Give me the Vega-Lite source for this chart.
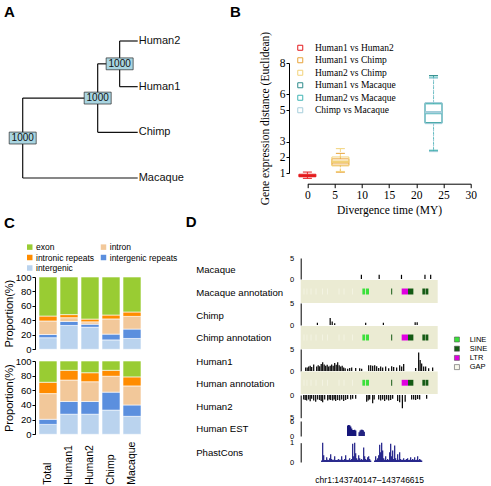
{
  "$schema": "https://vega.github.io/schema/vega-lite/v6.json",
  "padding": {"left": 3, "top": 4, "right": 2, "bottom": 2},
  "config": {
    "font": "Liberation Sans",
    "view": {"stroke": null},
    "axis": {"grid": false, "labelOverlap": false, "domainColor": "#000", "tickColor": "#000", "labelColor": "#000", "titleColor": "#000", "titleFontWeight": "normal"},
    "legend": {"labelColor": "#000"},
    "title": {"font": "Liberation Sans", "fontSize": 15, "fontWeight": "bold", "anchor": "start", "frame": "group", "color": "#000", "offset": 0}
  },
  "datasets": {
    "cTop": [
      {"sample": "Total", "region": "intergenic", "pct": 16}, {"sample": "Total", "region": "intergenic repeats", "pct": 4.5}, {"sample": "Total", "region": "intron", "pct": 18.7}, {"sample": "Total", "region": "intronic repeats", "pct": 6.8}, {"sample": "Total", "region": "exon", "pct": 54},
      {"sample": "Human1", "region": "intergenic", "pct": 33}, {"sample": "Human1", "region": "intergenic repeats", "pct": 5.5}, {"sample": "Human1", "region": "intron", "pct": 5.2}, {"sample": "Human1", "region": "intronic repeats", "pct": 4.3}, {"sample": "Human1", "region": "exon", "pct": 52},
      {"sample": "Human2", "region": "intergenic", "pct": 30.5}, {"sample": "Human2", "region": "intergenic repeats", "pct": 4.2}, {"sample": "Human2", "region": "intron", "pct": 3.3}, {"sample": "Human2", "region": "intronic repeats", "pct": 3.8}, {"sample": "Human2", "region": "exon", "pct": 58.2},
      {"sample": "Chimp", "region": "intergenic", "pct": 13}, {"sample": "Chimp", "region": "intergenic repeats", "pct": 8}, {"sample": "Chimp", "region": "intron", "pct": 21}, {"sample": "Chimp", "region": "intronic repeats", "pct": 5.4}, {"sample": "Chimp", "region": "exon", "pct": 52.6},
      {"sample": "Macaque", "region": "intergenic", "pct": 15}, {"sample": "Macaque", "region": "intergenic repeats", "pct": 13}, {"sample": "Macaque", "region": "intron", "pct": 17.5}, {"sample": "Macaque", "region": "intronic repeats", "pct": 6.1}, {"sample": "Macaque", "region": "exon", "pct": 48.4}
    ],
    "cBottom": [
      {"sample": "Total", "region": "intergenic", "pct": 13.5}, {"sample": "Total", "region": "intergenic repeats", "pct": 7}, {"sample": "Total", "region": "intron", "pct": 35}, {"sample": "Total", "region": "intronic repeats", "pct": 15.5}, {"sample": "Total", "region": "exon", "pct": 29},
      {"sample": "Human1", "region": "intergenic", "pct": 27.4}, {"sample": "Human1", "region": "intergenic repeats", "pct": 17.4}, {"sample": "Human1", "region": "intron", "pct": 29.2}, {"sample": "Human1", "region": "intronic repeats", "pct": 13.3}, {"sample": "Human1", "region": "exon", "pct": 12.7},
      {"sample": "Human2", "region": "intergenic", "pct": 27.4}, {"sample": "Human2", "region": "intergenic repeats", "pct": 17.4}, {"sample": "Human2", "region": "intron", "pct": 26.9}, {"sample": "Human2", "region": "intronic repeats", "pct": 12.3}, {"sample": "Human2", "region": "exon", "pct": 16},
      {"sample": "Chimp", "region": "intergenic", "pct": 33}, {"sample": "Chimp", "region": "intergenic repeats", "pct": 24.5}, {"sample": "Chimp", "region": "intron", "pct": 21.7}, {"sample": "Chimp", "region": "intronic repeats", "pct": 8.1}, {"sample": "Chimp", "region": "exon", "pct": 12.7},
      {"sample": "Macaque", "region": "intergenic", "pct": 24.5}, {"sample": "Macaque", "region": "intergenic repeats", "pct": 15.5}, {"sample": "Macaque", "region": "intron", "pct": 26}, {"sample": "Macaque", "region": "intronic repeats", "pct": 12.3}, {"sample": "Macaque", "region": "exon", "pct": 21.7}
    ],
    "macaque": [{"pos": 2865, "cov": 1}, {"pos": 3705, "cov": 1}, {"pos": 4758, "cov": 1}, {"pos": 5867, "cov": 1}, {"pos": 6136, "cov": 1}],
    "chimp": [{"pos": 788, "cov": 0.5}, {"pos": 1392, "cov": 1.6}, {"pos": 1487, "cov": 0.8}, {"pos": 1605, "cov": 0.4}, {"pos": 3068, "cov": 0.5}, {"pos": 3903, "cov": 0.5}, {"pos": 5404, "cov": 0.6}, {"pos": 5499, "cov": 0.6}],
    "human1": [{"pos": 236, "cov": 0.8}, {"pos": 307, "cov": 0.8}, {"pos": 378, "cov": 1.0}, {"pos": 448, "cov": 1.2}, {"pos": 519, "cov": 0.9}, {"pos": 614, "cov": 1.5}, {"pos": 755, "cov": 1.0}, {"pos": 826, "cov": 1.3}, {"pos": 897, "cov": 1.1}, {"pos": 968, "cov": 1.6}, {"pos": 1038, "cov": 2.0}, {"pos": 1109, "cov": 1.5}, {"pos": 1180, "cov": 1.2}, {"pos": 1251, "cov": 1.4}, {"pos": 1322, "cov": 1.0}, {"pos": 1392, "cov": 1.2}, {"pos": 1463, "cov": 1.5}, {"pos": 1534, "cov": 1.2}, {"pos": 1605, "cov": 1.8}, {"pos": 1676, "cov": 1.4}, {"pos": 1746, "cov": 2.0}, {"pos": 1817, "cov": 1.3}, {"pos": 1888, "cov": 1.0}, {"pos": 1959, "cov": 1.2}, {"pos": 2030, "cov": 0.8}, {"pos": 2100, "cov": 0.6}, {"pos": 2218, "cov": 0.5}, {"pos": 2313, "cov": 0.7}, {"pos": 2407, "cov": 0.8}, {"pos": 2596, "cov": 0.7}, {"pos": 2785, "cov": 0.6}, {"pos": 2879, "cov": 0.5}, {"pos": 3210, "cov": 1.3}, {"pos": 3304, "cov": 1.3}, {"pos": 3398, "cov": 1.2}, {"pos": 3493, "cov": 1.3}, {"pos": 3587, "cov": 1.1}, {"pos": 3682, "cov": 0.7}, {"pos": 3776, "cov": 1.0}, {"pos": 3870, "cov": 0.8}, {"pos": 4012, "cov": 1.0}, {"pos": 4154, "cov": 0.6}, {"pos": 4295, "cov": 1.1}, {"pos": 4390, "cov": 0.9}, {"pos": 4531, "cov": 0.8}, {"pos": 4673, "cov": 1.3}, {"pos": 4767, "cov": 1.0}, {"pos": 4862, "cov": 1.6}, {"pos": 5428, "cov": 0.7}, {"pos": 5570, "cov": 4.2}, {"pos": 5640, "cov": 2.5}, {"pos": 5711, "cov": 1.7}, {"pos": 5806, "cov": 1.0}, {"pos": 5900, "cov": 1.0}, {"pos": 6042, "cov": 0.6}, {"pos": 6230, "cov": 0.8}],
    "human2": [{"pos": 142, "cov": 1.0}, {"pos": 212, "cov": 1.1}, {"pos": 283, "cov": 1.2}, {"pos": 378, "cov": 1.0}, {"pos": 448, "cov": 1.4}, {"pos": 519, "cov": 0.8}, {"pos": 614, "cov": 1.2}, {"pos": 708, "cov": 1.5}, {"pos": 802, "cov": 1.0}, {"pos": 897, "cov": 1.1}, {"pos": 968, "cov": 1.3}, {"pos": 1038, "cov": 1.6}, {"pos": 1133, "cov": 1.0}, {"pos": 1274, "cov": 1.2}, {"pos": 1345, "cov": 1.0}, {"pos": 1416, "cov": 1.1}, {"pos": 1510, "cov": 1.2}, {"pos": 1581, "cov": 1.0}, {"pos": 1652, "cov": 1.3}, {"pos": 1746, "cov": 1.1}, {"pos": 1841, "cov": 1.2}, {"pos": 1935, "cov": 1.0}, {"pos": 2030, "cov": 1.3}, {"pos": 2124, "cov": 1.1}, {"pos": 2218, "cov": 0.9}, {"pos": 2360, "cov": 1.0}, {"pos": 2454, "cov": 0.8}, {"pos": 2596, "cov": 0.8}, {"pos": 3115, "cov": 1.5}, {"pos": 3186, "cov": 1.2}, {"pos": 3257, "cov": 1.0}, {"pos": 3398, "cov": 1.8}, {"pos": 3469, "cov": 1.0}, {"pos": 3682, "cov": 1.0}, {"pos": 3776, "cov": 1.2}, {"pos": 3870, "cov": 1.0}, {"pos": 3965, "cov": 1.3}, {"pos": 4059, "cov": 1.0}, {"pos": 4154, "cov": 1.2}, {"pos": 4248, "cov": 1.1}, {"pos": 4342, "cov": 0.8}, {"pos": 4578, "cov": 1.3}, {"pos": 4673, "cov": 1.6}, {"pos": 4800, "cov": 2.9}, {"pos": 4932, "cov": 1.5}, {"pos": 5239, "cov": 1.0}, {"pos": 5334, "cov": 1.0}, {"pos": 5428, "cov": 1.1}, {"pos": 5522, "cov": 0.9}, {"pos": 5617, "cov": 1.0}, {"pos": 5947, "cov": 0.8}],
    "est": [{"pos": 2218, "depth": 4.2}, {"pos": 2266, "depth": 4.4}, {"pos": 2313, "depth": 4.3}, {"pos": 2360, "depth": 3.8}, {"pos": 2407, "depth": 3.0}, {"pos": 2454, "depth": 2.4}, {"pos": 2502, "depth": 2.4}, {"pos": 2549, "depth": 2.5}, {"pos": 2596, "depth": 2.2}, {"pos": 2761, "depth": 1.5}, {"pos": 2808, "depth": 2.2}, {"pos": 2856, "depth": 2.5}, {"pos": 2903, "depth": 2.5}, {"pos": 2950, "depth": 2.3}, {"pos": 2997, "depth": 1.7}],
    "phast": [{"pos": 991, "score": 0.08}, {"pos": 1038, "score": 1.0}, {"pos": 1086, "score": 0.35}, {"pos": 1133, "score": 0.1}, {"pos": 1180, "score": 0.1}, {"pos": 1227, "score": 0.25}, {"pos": 1274, "score": 0.12}, {"pos": 1322, "score": 0.1}, {"pos": 1369, "score": 0.2}, {"pos": 1416, "score": 0.4}, {"pos": 1463, "score": 0.15}, {"pos": 1510, "score": 0.1}, {"pos": 1558, "score": 0.12}, {"pos": 1605, "score": 0.3}, {"pos": 1652, "score": 0.1}, {"pos": 1699, "score": 0.1}, {"pos": 1746, "score": 0.12}, {"pos": 1794, "score": 0.15}, {"pos": 1841, "score": 0.1}, {"pos": 1888, "score": 0.12}, {"pos": 1935, "score": 0.3}, {"pos": 1982, "score": 0.12}, {"pos": 2030, "score": 0.1}, {"pos": 2077, "score": 0.15}, {"pos": 2124, "score": 0.35}, {"pos": 2171, "score": 0.12}, {"pos": 2218, "score": 0.1}, {"pos": 2266, "score": 0.12}, {"pos": 2313, "score": 0.2}, {"pos": 2360, "score": 0.1}, {"pos": 2407, "score": 0.15}, {"pos": 2454, "score": 0.95}, {"pos": 2502, "score": 0.3}, {"pos": 2549, "score": 1.0}, {"pos": 2596, "score": 0.45}, {"pos": 2643, "score": 0.2}, {"pos": 2690, "score": 0.12}, {"pos": 2738, "score": 0.35}, {"pos": 2785, "score": 0.2}, {"pos": 2832, "score": 0.12}, {"pos": 2879, "score": 0.15}, {"pos": 2926, "score": 0.1}, {"pos": 2974, "score": 0.75}, {"pos": 3021, "score": 0.3}, {"pos": 3068, "score": 0.15}, {"pos": 3115, "score": 0.1}, {"pos": 3162, "score": 0.25}, {"pos": 3210, "score": 0.3}, {"pos": 3257, "score": 0.15}, {"pos": 3304, "score": 0.08}, {"pos": 3493, "score": 0.08}, {"pos": 3540, "score": 0.3}, {"pos": 3587, "score": 0.12}, {"pos": 3634, "score": 0.2}, {"pos": 3682, "score": 0.35}, {"pos": 3729, "score": 0.9}, {"pos": 3776, "score": 0.5}, {"pos": 3823, "score": 1.0}, {"pos": 3870, "score": 0.6}, {"pos": 3918, "score": 0.2}, {"pos": 3965, "score": 0.12}, {"pos": 4012, "score": 0.3}, {"pos": 4059, "score": 0.1}, {"pos": 4106, "score": 0.15}, {"pos": 4154, "score": 0.1}, {"pos": 4201, "score": 0.5}, {"pos": 4248, "score": 0.95}, {"pos": 4295, "score": 0.3}, {"pos": 4342, "score": 0.6}, {"pos": 4390, "score": 0.15}, {"pos": 4437, "score": 0.85}, {"pos": 4484, "score": 0.2}, {"pos": 4531, "score": 0.1}, {"pos": 4578, "score": 0.4}, {"pos": 4626, "score": 0.12}, {"pos": 4673, "score": 0.5}, {"pos": 4720, "score": 0.15}, {"pos": 4767, "score": 0.1}, {"pos": 4814, "score": 0.12}, {"pos": 4862, "score": 0.2}, {"pos": 4909, "score": 0.1}, {"pos": 4956, "score": 0.12}, {"pos": 5003, "score": 0.15}, {"pos": 5050, "score": 0.2}, {"pos": 5098, "score": 0.1}, {"pos": 5145, "score": 0.12}, {"pos": 5192, "score": 0.25}, {"pos": 5239, "score": 0.1}, {"pos": 5286, "score": 0.15}, {"pos": 5334, "score": 0.12}, {"pos": 5381, "score": 0.25}, {"pos": 5428, "score": 0.1}, {"pos": 5475, "score": 0.12}, {"pos": 5522, "score": 0.3}, {"pos": 5570, "score": 0.1}, {"pos": 5617, "score": 0.15}, {"pos": 5664, "score": 0.12}, {"pos": 5711, "score": 0.08}],
    "repeats": [
      {"type": "LINE", "start": 2912, "end": 3044}, {"type": "LINE", "start": 3082, "end": 3224},
      {"type": "SINE", "start": 4272, "end": 4319}, {"type": "LTR", "start": 4767, "end": 5065},
      {"type": "SINE", "start": 5065, "end": 5319}, {"type": "SINE", "start": 5744, "end": 5867},
      {"type": "SINE", "start": 5891, "end": 6027},
      {"type": "GAP", "start": 142, "end": 170}, {"type": "GAP", "start": 283, "end": 310}, {"type": "GAP", "start": 472, "end": 500},
      {"type": "GAP", "start": 708, "end": 736}, {"type": "GAP", "start": 1024, "end": 1052}, {"type": "GAP", "start": 1260, "end": 1288},
      {"type": "GAP", "start": 1794, "end": 1822}, {"type": "GAP", "start": 2030, "end": 2058}, {"type": "GAP", "start": 2440, "end": 2468}
    ],
    "band": [{"track": "annotation"}]
  },
  "columns": 2,
  "spacing": {"row": 85, "column": 155.7},
  "bounds": "flush",
  "resolve": {"scale": {"color": "independent"}, "legend": {"color": "independent"}},
  "concat": [
    {
      "width": 102.7,
      "height": 110,
      "title": {"text": "A", "dx": -31, "dy": -11.3},
      "encoding": {
        "x": {"field": "x", "type": "quantitative", "scale": {"domain": [0, 1], "range": [-12.3, 102.7], "nice": false, "zero": false}, "axis": null},
        "y": {"field": "y", "type": "quantitative", "scale": {"domain": [1, 4], "range": [-22, 115], "nice": false, "zero": false}, "axis": null}
      },
      "layer": [
        {
          "data": {"values": [
            {"x": 0, "x2": 0, "y": 2.25, "y2": 4}, {"x": 0, "x2": 1, "y": 4, "y2": 4},
            {"x": 0, "x2": 0.652, "y": 2.25, "y2": 2.25}, {"x": 0.652, "x2": 0.652, "y": 1.5, "y2": 3},
            {"x": 0.652, "x2": 1, "y": 3, "y2": 3}, {"x": 0.652, "x2": 0.843, "y": 1.5, "y2": 1.5},
            {"x": 0.843, "x2": 0.843, "y": 1, "y2": 2}, {"x": 0.843, "x2": 1, "y": 1, "y2": 1},
            {"x": 0.843, "x2": 1, "y": 2, "y2": 2}
          ]},
          "mark": {"type": "rule", "color": "#111", "strokeWidth": 1.2},
          "encoding": {"x2": {"field": "x2"}, "y2": {"field": "y2"}}
        },
        {
          "data": {"values": [{"x": 0, "y": 3.125, "support": "1000"}, {"x": 0.652, "y": 2.25, "support": "1000"}, {"x": 0.843, "y": 1.5, "support": "1000"}]},
          "layer": [
            {"mark": {"type": "point", "shape": "M-1,-0.44H1V0.44H-1Z", "size": 729, "filled": true, "fill": "#A9D5E1", "stroke": "#2a2a2a", "strokeWidth": 0.7, "opacity": 1}},
            {"mark": {"type": "text", "fontSize": 10, "color": "#111"}, "encoding": {"text": {"field": "support"}}}
          ]
        },
        {
          "data": {"values": [{"taxon": "Human2", "x": 1, "y": 1}, {"taxon": "Human1", "x": 1, "y": 2}, {"taxon": "Chimp", "x": 1, "y": 3}, {"taxon": "Macaque", "x": 1, "y": 4}]},
          "mark": {"type": "text", "align": "left", "baseline": "middle", "dx": 1, "fontSize": 11, "color": "#111"},
          "encoding": {"text": {"field": "taxon"}}
        }
      ]
    },
    {
      "width": 170,
      "height": 110,
      "title": {"text": "B", "dx": -70.7, "dy": -7.3},
      "data": {"values": [
        {"pair": "Human1 vs Human2", "x": 0, "lo": 0.66, "q1": 0.76, "med": 0.83, "q3": 0.92, "hi": 1.06},
        {"pair": "Human1 vs Chimp", "x": 6.06, "lo": 1.05, "q1": 1.5, "med": 1.68, "q3": 1.9, "hi": 2.25},
        {"pair": "Human2 vs Chimp", "x": 6.06, "lo": 1.1, "q1": 1.45, "med": 1.72, "q3": 2.02, "hi": 2.55},
        {"pair": "Human1 vs Macaque", "x": 23.17, "lo": 2.4, "q1": 4.2, "med": 4.84, "q3": 5.45, "hi": 7.2},
        {"pair": "Human2 vs Macaque", "x": 23.17, "lo": 2.45, "q1": 4.18, "med": 4.82, "q3": 5.4, "hi": 7.1},
        {"pair": "Chimp vs Macaque", "x": 23.17, "lo": 2.36, "q1": 4.14, "med": 4.86, "q3": 5.48, "hi": 7.03}
      ]},
      "encoding": {
        "x": {"field": "x", "type": "quantitative", "scale": {"domain": [0, 30], "range": [6.7, 170], "nice": false, "zero": false, "padding": 0},
          "axis": {"values": [0, 5, 10, 15, 20, 25, 30], "offset": 10.7, "tickSize": 4, "labelFlush": false, "labelOverlap": false, "labelFont": "Liberation Serif", "labelFontSize": 11.5, "labelPadding": 2, "title": "Divergence time (MY)", "titleFont": "Liberation Serif", "titleFontSize": 11.5, "titlePadding": 3}},
        "y": {"field": "lo", "type": "quantitative", "scale": {"domain": [1, 8], "nice": false, "zero": false, "padding": 0},
          "axis": {"values": [1, 2, 3, 5, 6, 8], "offset": 11.7, "tickSize": 3, "labelOverlap": false, "labelFlush": false, "labelBound": false, "labelFont": "Liberation Serif", "labelFontSize": 11.5, "labelPadding": 1, "title": "Gene expression distance (Euclidean)", "titleFont": "Liberation Serif", "titleFontSize": 11.5, "titlePadding": 9}},
        "color": {"field": "pair", "type": "nominal",
          "scale": {"domain": ["Human1 vs Human2", "Human1 vs Chimp", "Human2 vs Chimp", "Human1 vs Macaque", "Human2 vs Macaque", "Chimp vs Macaque"], "range": ["#E41A1C", "#E8A33A", "#F2D27A", "#2F8C8C", "#40B5B5", "#A6CEDB"]},
          "legend": {"orient": "none", "legendX": -5.2, "legendY": -20, "title": null, "symbolType": "square", "symbolSize": 25, "symbolStrokeWidth": 1, "labelFont": "Liberation Serif", "labelFontSize": 9.5, "labelOffset": 10, "rowPadding": 1.5, "padding": 0}}
      },
      "layer": [
        {"mark": {"type": "rule", "strokeDash": [3, 2], "strokeWidth": 0.9}, "encoding": {"y2": {"field": "q1"}}},
        {"mark": {"type": "rule", "strokeDash": [3, 2], "strokeWidth": 0.9}, "encoding": {"y": {"field": "q3", "type": "quantitative"}, "y2": {"field": "hi"}}},
        {"mark": {"type": "rule", "xOffset": -4.5, "x2Offset": 4.5, "strokeWidth": 1}, "encoding": {"x2": {"field": "x"}}},
        {"mark": {"type": "rule", "xOffset": -4.5, "x2Offset": 4.5, "strokeWidth": 1}, "encoding": {"x2": {"field": "x"}, "y": {"field": "hi", "type": "quantitative"}}},
        {"mark": {"type": "bar", "filled": false, "width": 17, "strokeWidth": 1}, "encoding": {"y": {"field": "q1", "type": "quantitative"}, "y2": {"field": "q3"}}},
        {"mark": {"type": "rule", "xOffset": -8.5, "x2Offset": 8.5, "strokeWidth": 2.5}, "encoding": {"x2": {"field": "x"}, "y": {"field": "med", "type": "quantitative"}}}
      ]
    },
    {
      "width": 110,
      "height": 176.3,
      "title": {"text": "C", "dx": -31, "dy": -8},
      "resolve": {"scale": {"y": "independent"}, "axis": {"y": "independent"}},
      "encoding": {
        "x": {"field": "sample", "type": "nominal", "sort": ["Total", "Human1", "Human2", "Chimp", "Macaque"], "scale": {"paddingInner": 0.143, "paddingOuter": 0.19},
          "axis": {"labelAngle": -90, "labelAlign": "left", "labelBaseline": "middle", "ticks": false, "domain": false, "labelPadding": 50, "labelFontSize": 10.5, "labelOverlap": false, "title": null}},
        "color": {"field": "region", "type": "nominal",
          "scale": {"domain": ["exon", "intron", "intronic repeats", "intergenic repeats", "intergenic"], "range": ["#99CC33", "#F2C89A", "#FF8C00", "#5B8FDE", "#BAD3EE"]},
          "legend": {"orient": "none", "direction": "horizontal", "legendX": -9.5, "legendY": -15.25, "title": null, "columns": 2, "symbolType": "square", "symbolSize": 30, "symbolStrokeWidth": 0, "labelFontSize": 8.5, "labelOffset": 2, "columnPadding": 4.75, "rowPadding": 1.5, "padding": 0}},
        "order": {"field": "stackRank", "type": "quantitative", "sort": "ascending"}
      },
      "layer": [
        {
          "data": {"name": "cTop"},
          "transform": [{"calculate": "indexof(['intergenic','intergenic repeats','intron','intronic repeats','exon'], datum.region)", "as": "stackRank"}],
          "mark": {"type": "bar", "stroke": "white", "strokeWidth": 0.6},
          "encoding": {
            "y": {"field": "pct", "type": "quantitative", "stack": "zero", "scale": {"domain": [0, 100], "range": [91.3, 19], "nice": false},
              "axis": {"orient": "left", "values": [0, 20, 40, 60, 80, 100], "tickSize": 3, "labelFontSize": 9.5, "labelPadding": 1, "title": "Proportion(%)", "titleFontSize": 11, "titlePadding": 1}}
          }
        },
        {
          "data": {"name": "cBottom"},
          "transform": [{"calculate": "indexof(['intergenic','intergenic repeats','intron','intronic repeats','exon'], datum.region)", "as": "stackRank"}],
          "mark": {"type": "bar", "stroke": "white", "strokeWidth": 0.6},
          "encoding": {
            "y": {"field": "pct", "type": "quantitative", "stack": "zero", "scale": {"domain": [0, 100], "range": [176.3, 103], "nice": false},
              "axis": {"orient": "left", "values": [0, 20, 40, 60, 80, 100], "tickSize": 3, "labelFontSize": 9.5, "labelPadding": 1, "title": "Proportion(%)", "titleFontSize": 11, "titlePadding": 1}}
          }
        }
      ]
    },
    {
      "width": 137,
      "height": 208,
      "title": {"text": "D", "dx": -115, "dy": -20},
      "resolve": {"scale": {"y": "independent"}, "axis": {"y": "independent"}},
      "layer": [
        {
          "data": {"name": "macaque"},
          "mark": {"type": "bar", "width": 1.2, "color": "#000"},
          "encoding": {
            "x": {"field": "pos", "type": "quantitative", "scale": {"domain": [0, 6468], "nice": false, "zero": false, "padding": 0}, "axis": {"domain": false, "ticks": false, "labels": false, "title": "chr1:143740147–143746615", "titleFontSize": 8.5, "titleBaseline": "middle", "titleY": 13}},
            "y": {"field": "cov", "type": "quantitative", "scale": {"domain": [0, 5], "range": [21, 0], "nice": false, "padding": 0},
              "axis": {"orient": "left", "values": [0, 5], "ticks": false, "labelPadding": 7, "labelFontSize": 7.5, "title": "Macaque", "titleAngle": 0, "titleAlign": "left", "titleBaseline": "middle", "titleX": -105, "titleY": 11, "titleFontSize": 9.6}}
          }
        },
        {
          "layer": [
            {"data": {"name": "band"}, "mark": {"type": "rect", "color": "#EBEBD3"},
             "encoding": {"x": {"datum": 0, "type": "quantitative"}, "x2": {"datum": 6468}, "y": {"datum": 0, "type": "quantitative"}, "y2": {"datum": 1}}},
            {"data": {"name": "repeats"}, "mark": {"type": "rect"},
             "encoding": {"x": {"field": "start", "type": "quantitative"}, "x2": {"field": "end"}, "y": {"datum": 0.37, "type": "quantitative"}, "y2": {"datum": 0.63},
               "color": {"field": "type", "type": "nominal", "scale": {"domain": ["LINE", "SINE", "LTR", "GAP"], "range": ["#3BE03B", "#145A14", "#E000E0", "#F8F8EC"]},
                 "legend": {"orient": "none", "legendX": 152.5, "legendY": 77.75, "title": null, "symbolType": "square", "symbolSize": 25, "symbolStrokeColor": "#555", "symbolStrokeWidth": 0.6, "labelFontSize": 7.5, "labelOffset": 9, "rowPadding": 0.2, "padding": 0}}}}
          ],
          "encoding": {
            "y": {"scale": {"domain": [0, 1], "range": [45, 22], "nice": false, "zero": false, "padding": 0},
              "axis": {"orient": "left", "domain": false, "ticks": false, "labels": false, "title": "Macaque annotation", "titleAngle": 0, "titleAlign": "left", "titleBaseline": "middle", "titleX": -105, "titleY": 34, "titleFontSize": 9.6}}
          }
        },
        {
          "data": {"name": "chimp"},
          "mark": {"type": "bar", "width": 1.2, "color": "#000"},
          "encoding": {
            "x": {"field": "pos", "type": "quantitative"},
            "y": {"field": "cov", "type": "quantitative", "scale": {"domain": [0, 5], "range": [67, 45], "nice": false, "padding": 0},
              "axis": {"orient": "left", "values": [0, 5], "ticks": false, "labelPadding": 7, "labelFontSize": 7.5, "title": "Chimp", "titleAngle": 0, "titleAlign": "left", "titleBaseline": "middle", "titleX": -105, "titleY": 57, "titleFontSize": 9.6}}
          }
        },
        {
          "layer": [
            {"data": {"name": "band"}, "mark": {"type": "rect", "color": "#EBEBD3"},
             "encoding": {"x": {"datum": 0, "type": "quantitative"}, "x2": {"datum": 6468}, "y": {"datum": 0, "type": "quantitative"}, "y2": {"datum": 1}}},
            {"data": {"name": "repeats"}, "mark": {"type": "rect"},
             "encoding": {"x": {"field": "start", "type": "quantitative"}, "x2": {"field": "end"}, "y": {"datum": 0.37, "type": "quantitative"}, "y2": {"datum": 0.63},
               "color": {"field": "type", "type": "nominal"}}}
          ],
          "encoding": {
            "y": {"scale": {"domain": [0, 1], "range": [91, 68], "nice": false, "zero": false, "padding": 0},
              "axis": {"orient": "left", "domain": false, "ticks": false, "labels": false, "title": "Chimp annotation", "titleAngle": 0, "titleAlign": "left", "titleBaseline": "middle", "titleX": -105, "titleY": 79, "titleFontSize": 9.6}}
          }
        },
        {
          "data": {"name": "human1"},
          "mark": {"type": "bar", "width": 1.2, "color": "#000"},
          "encoding": {
            "x": {"field": "pos", "type": "quantitative"},
            "y": {"field": "cov", "type": "quantitative", "scale": {"domain": [0, 5], "range": [113, 91], "nice": false, "padding": 0},
              "axis": {"orient": "left", "values": [0, 5], "ticks": false, "labelPadding": 7, "labelFontSize": 7.5, "title": "Human1", "titleAngle": 0, "titleAlign": "left", "titleBaseline": "middle", "titleX": -105, "titleY": 103, "titleFontSize": 9.6}}
          }
        },
        {
          "layer": [
            {"data": {"name": "band"}, "mark": {"type": "rect", "color": "#EBEBD3"},
             "encoding": {"x": {"datum": 0, "type": "quantitative"}, "x2": {"datum": 6468}, "y": {"datum": 0, "type": "quantitative"}, "y2": {"datum": 1}}},
            {"data": {"name": "repeats"}, "mark": {"type": "rect"},
             "encoding": {"x": {"field": "start", "type": "quantitative"}, "x2": {"field": "end"}, "y": {"datum": 0.37, "type": "quantitative"}, "y2": {"datum": 0.63},
               "color": {"field": "type", "type": "nominal"}}}
          ],
          "encoding": {
            "y": {"scale": {"domain": [0, 1], "range": [136, 113.5], "nice": false, "zero": false, "padding": 0},
              "axis": {"orient": "left", "domain": false, "ticks": false, "labels": false, "title": "Human annotation", "titleAngle": 0, "titleAlign": "left", "titleBaseline": "middle", "titleX": -105, "titleY": 125, "titleFontSize": 9.6}}
          }
        },
        {
          "data": {"name": "human2"},
          "mark": {"type": "bar", "width": 1.2, "color": "#000"},
          "encoding": {
            "x": {"field": "pos", "type": "quantitative"},
            "y": {"field": "cov", "type": "quantitative", "scale": {"domain": [0, 5], "range": [137, 159.7], "nice": false, "padding": 0},
              "axis": {"orient": "left", "values": [0, 5], "ticks": false, "labelPadding": 7, "labelFontSize": 7.5, "title": "Human2", "titleAngle": 0, "titleAlign": "left", "titleBaseline": "middle", "titleX": -105, "titleY": 148, "titleFontSize": 9.6}}
          }
        },
        {
          "data": {"name": "est"},
          "mark": {"type": "bar", "width": 1.4, "color": "#16167A"},
          "encoding": {
            "x": {"field": "pos", "type": "quantitative"},
            "y": {"field": "depth", "type": "quantitative", "scale": {"domain": [0, 6], "range": [178, 163], "nice": false, "padding": 0},
              "axis": {"orient": "left", "values": [0, 6], "format": "~g", "ticks": false, "labelPadding": 7, "labelFontSize": 7.5, "title": "Human EST", "titleAngle": 0, "titleAlign": "left", "titleBaseline": "middle", "titleX": -105, "titleY": 170, "titleFontSize": 9.6}}
          }
        },
        {
          "data": {"name": "phast"},
          "mark": {"type": "bar", "width": 1.2, "color": "#1C1C86"},
          "encoding": {
            "x": {"field": "pos", "type": "quantitative"},
            "y": {"field": "score", "type": "quantitative", "scale": {"domain": [0, 1], "range": [204, 184.7], "nice": false, "padding": 0},
              "axis": {"orient": "left", "values": [0, 1], "format": "~g", "ticks": false, "labelPadding": 7, "labelFontSize": 7.5, "title": "PhastCons", "titleAngle": 0, "titleAlign": "left", "titleBaseline": "middle", "titleX": -105, "titleY": 194, "titleFontSize": 9.6}}
          }
        }
      ]
    }
  ]
}
